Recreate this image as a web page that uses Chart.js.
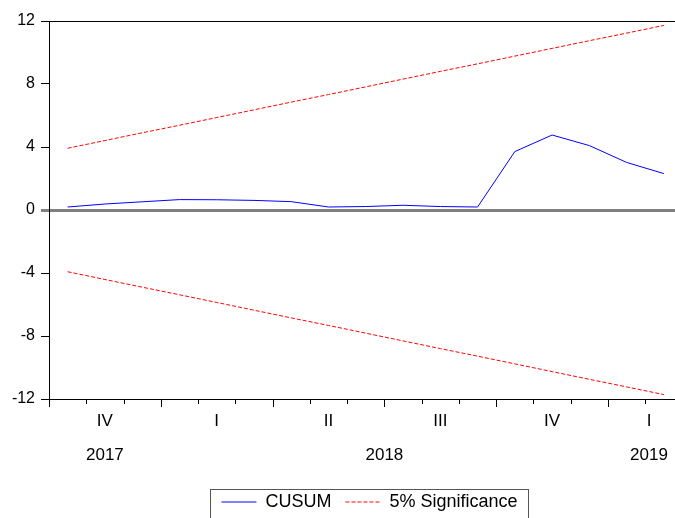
<!DOCTYPE html>
<html>
<head>
<meta charset="utf-8">
<script src="https://cdn.jsdelivr.net/npm/chart.js@4.4.1/dist/chart.umd.min.js"></script>
<style>
    html, body { margin: 0; padding: 0; background: #fff; overflow: hidden; }
    .chart-box { width: 730px; height: 518px; }
</style>
</head>
<body>
<div class="chart-box"><canvas id="cusumChart" width="730" height="518"></canvas></div>
<script>
// monthly observations, Oct 2017 - Feb 2019
const months = ['2017-10', '2017-11', '2017-12', '2018-01', '2018-02', '2018-03', '2018-04', '2018-05', '2018-06',
    '2018-07', '2018-08', '2018-09', '2018-10', '2018-11', '2018-12', '2019-01', '2019-02'];
const cusum = [0.19, 0.38, 0.52, 0.66, 0.65, 0.61, 0.53, 0.19, 0.22, 0.30, 0.22, 0.19, 3.71, 4.76, 4.09, 3.02, 2.31];
const upperBound = [3.92, 4.41, 4.90, 5.38, 5.87, 6.36, 6.85, 7.33, 7.82, 8.31, 8.80, 9.28, 9.77, 10.26, 10.75, 11.23, 11.72];
const lowerBound = [-3.92, -4.41, -4.90, -5.38, -5.87, -6.36, -6.85, -7.33, -7.82, -8.31, -8.80, -9.28, -9.77, -10.26, -10.75, -11.23, -11.72];
const quarterNames = ['I', 'II', 'III', 'IV'];
const yTicks = [-12, -8, -4, 0, 4, 8, 12];

const FONT = "'Liberation Sans', Arial, sans-serif";

const toPoints = (arr) => arr.map((v, i) => ({ x: i, y: v }));

// groups of consecutive months sharing a key -> [{label, from, to}]
function groupMonths(keyFn) {
    const groups = [];
    months.forEach((m, i) => {
        const key = keyFn(m);
        const last = groups[groups.length - 1];
        if (last && last.label === key) {
            last.to = i;
        } else {
            groups.push({ label: key, from: i, to: i });
        }
    });
    return groups;
}

const xAxisLabels = {
    id: 'xAxisLabels',
    afterDraw(chart) {
        const { ctx, chartArea, scales: { x } } = chart;
        const y0 = chartArea.bottom;
        ctx.save();
        ctx.strokeStyle = '#000';
        ctx.lineWidth = 1;
        for (let k = 0; k <= months.length; k++) {
            const v = k - 0.5;
            if (v > x.max) break;
            const px = Math.round(x.getPixelForValue(v)) + 0.5;
            const month = k < months.length ? Number(months[k].slice(5)) : 0;
            const len = (month - 1) % 3 === 0 ? 8 : 5;
            ctx.beginPath();
            ctx.moveTo(px, y0);
            ctx.lineTo(px, y0 + len);
            ctx.stroke();
        }

        ctx.fillStyle = '#000';
        ctx.font = '17px ' + FONT;
        ctx.textAlign = 'center';
        ctx.textBaseline = 'alphabetic';

        const spanCenter = (g, isLast) => {
            const a = g.from - 0.5;
            const b = isLast ? x.max : g.to + 0.5;
            return x.getPixelForValue((a + b) / 2);
        };

        const quarters = groupMonths((m) => m.slice(0, 4) + quarterNames[Math.ceil(Number(m.slice(5)) / 3) - 1]);
        quarters.forEach((q, i) => {
            ctx.fillText(q.label.slice(4), spanCenter(q, i === quarters.length - 1), y0 + 27);
        });

        const years = groupMonths((m) => m.slice(0, 4));
        years.forEach((yr, i) => {
            ctx.fillText(yr.label, spanCenter(yr, i === years.length - 1), y0 + 61);
        });
        ctx.restore();
    },
};

const legendFrame = {
    id: 'legendFrame',
    afterDraw(chart) {
        const boxes = chart.legend && chart.legend.legendHitBoxes;
        if (!boxes || !boxes.length) return;
        const first = boxes[0];
        const last = boxes[boxes.length - 1];
        const left = Math.round(first.left - 11) + 0.5;
        const right = Math.round(last.left + last.width + 10) + 0.5;
        const top = Math.round(first.top + first.height / 2 - 13) + 0.5;
        const { ctx } = chart;
        ctx.save();
        ctx.strokeStyle = '#555';
        ctx.lineWidth = 1;
        ctx.strokeRect(left, top, right - left, chart.height - top + 5);
        ctx.restore();
    },
};

const config = {
    type: 'line',
    data: {
        datasets: [
            {
                label: 'CUSUM',
                data: toPoints(cusum),
                borderColor: '#0000ff',
                borderWidth: 1,
                pointRadius: 0,
                tension: 0,
            },
            {
                label: '5% Significance',
                data: toPoints(upperBound),
                borderColor: '#ff0000',
                borderWidth: 1,
                borderDash: [4, 2],
                pointRadius: 0,
                tension: 0,
            },
            {
                label: 'lower',
                data: toPoints(lowerBound),
                borderColor: '#ff0000',
                borderWidth: 1,
                borderDash: [4, 2],
                pointRadius: 0,
                tension: 0,
            },
        ],
    },
    options: {
        responsive: false,
        animation: false,
        layout: {
            padding: { top: 21, right: 40, left: 0, bottom: -3 },
        },
        plugins: {
            tooltip: { enabled: false },
            legend: {
                position: 'bottom',
                fullSize: false,
                labels: {
                    usePointStyle: true,
                    pointStyle: 'line',
                    pointStyleWidth: 35,
                    padding: 14,
                    color: '#000',
                    font: { family: FONT, size: 18 },
                    filter: (item) => item.text !== 'lower',
                    generateLabels: (chart) => {
                        const items = Chart.defaults.plugins.legend.labels.generateLabels(chart);
                        return items.map((item) => {
                            const ds = chart.data.datasets[item.datasetIndex];
                            item.strokeStyle = ds.borderColor;
                            item.lineDash = ds.borderDash || [];
                            item.lineWidth = 1;
                            return item;
                        });
                    },
                },
            },
        },
        scales: {
            x: {
                type: 'linear',
                min: -0.5,
                max: 16.7,
                ticks: { display: false },
                grid: { display: false },
                border: { display: true, color: '#000', width: 1 },
                afterFit: (scale) => {
                    scale.height = 80;
                },
            },
            y: {
                min: -12,
                max: 12,
                afterBuildTicks: (scale) => {
                    scale.ticks = yTicks.map((v) => ({ value: v }));
                },
                ticks: {
                    color: '#000',
                    padding: 6,
                    font: { family: FONT, size: 16 },
                },
                grid: {
                    tickLength: 8,
                    color: (c) => (c.tick.value === 0 ? '#808080' : c.tick.value === 12 ? '#000' : 'rgba(0,0,0,0)'),
                    lineWidth: (c) => (c.tick.value === 0 ? 3 : 1),
                    tickColor: (c) => (c.tick.value === 0 ? '#808080' : '#000'),
                    tickWidth: (c) => (c.tick.value === 0 ? 3 : 1),
                },
                border: { display: true, color: '#000', width: 1 },
                afterFit: (scale) => {
                    scale.width = 49;
                },
            },
        },
    },
    plugins: [xAxisLabels, legendFrame],
};

new Chart(document.getElementById('cusumChart'), config);
</script>
</body>
</html>
